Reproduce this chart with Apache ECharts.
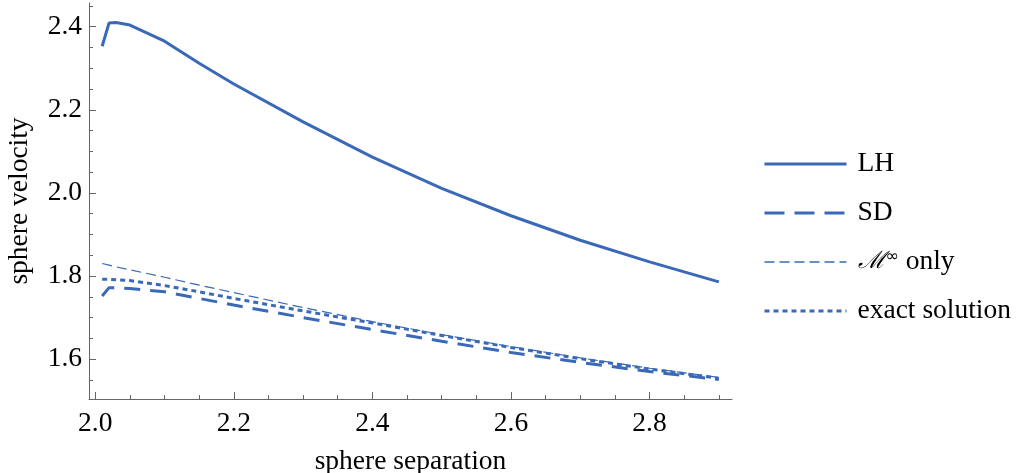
<!DOCTYPE html>
<html><head><meta charset="utf-8">
<script src="https://cdn.jsdelivr.net/npm/echarts@6/dist/echarts.min.js"></script>
<style>html,body{margin:0;padding:0;background:#fff}#c{width:1018px;height:473px}</style>
</head><body><div id="c"></div>
<script>
const separation = [2.01, 2.02, 2.03, 2.05, 2.1, 2.15, 2.2, 2.3, 2.4, 2.5, 2.6, 2.7, 2.8, 2.9];
const lhVelocity = [2.353, 2.409, 2.410, 2.404, 2.365, 2.312, 2.262, 2.171, 2.086, 2.011, 1.945, 1.886, 1.834, 1.786];
const sdVelocity = [1.752, 1.772, 1.772, 1.770, 1.762, 1.746, 1.730, 1.700, 1.671, 1.643, 1.616, 1.592, 1.570, 1.551];
const mInfVelocity = [1.830, 1.826, 1.822, 1.815, 1.797, 1.778, 1.760, 1.724, 1.690, 1.659, 1.630, 1.603, 1.578, 1.556];
const exactVelocity = [1.792, 1.792, 1.791, 1.789, 1.777, 1.762, 1.746, 1.716, 1.687, 1.657, 1.628, 1.601, 1.576, 1.554];
const xMajorTicks = [2.0, 2.2, 2.4, 2.6, 2.8];
const xMinorTicks = [2.0, 2.05, 2.1, 2.15, 2.2, 2.25, 2.3, 2.35, 2.4, 2.45, 2.5, 2.55, 2.6, 2.65, 2.7, 2.75, 2.8, 2.85, 2.9];
const yMajorTicks = [1.6, 1.8, 2.0, 2.2, 2.4];
const yMinorTicks = [1.55, 1.6, 1.65, 1.7, 1.75, 1.8, 1.85, 1.9, 1.95, 2.0, 2.05, 2.1, 2.15, 2.2, 2.25, 2.3, 2.35, 2.4, 2.45];
const seriesNames = ['LH', 'SD', 'M_inf', 'exact solution'];

const color = '#3a69b7';
const axisColor = '#666';
const font = 'Liberation Serif, Times New Roman, serif';
const fs = 27.5;
const xMin = 1.991, xMax = 2.919, yMin = 1.504, yMax = 2.457;
const styles = {
  'LH': {width: 3, type: 'solid'},
  'SD': {width: 3, type: [16, 10]},
  'M_inf': {width: 1.2, type: [10, 5]},
  'exact solution': {width: 3, type: [5, 4]}
};
const legendStyles = {
  'LH': {width: 3, type: 'solid'},
  'SD': {width: 3, type: [20, 10]},
  'M_inf': {width: 1.3, type: [10, 5]},
  'exact solution': {width: 3, type: [5, 4]}
};

function pairs(ys) { return separation.map((x, i) => [x, ys[i]]); }

const chart = echarts.init(document.getElementById('c'), null, {renderer: 'canvas'});
const baseX = {type: 'value', min: xMin, max: xMax, splitLine: {show: false}};
const baseY = {type: 'value', min: yMin, max: yMax, splitLine: {show: false}};
const valuesByName = {'LH': lhVelocity, 'SD': sdVelocity, 'M_inf': mInfVelocity, 'exact solution': exactVelocity};
chart.setOption({
  animation: false,
  backgroundColor: '#fff',
  grid: {left: 89, right: 286, top: 3, bottom: 74, containLabel: false, outerBoundsMode: 'none'},
  xAxis: [
    Object.assign({}, baseX, {
      axisLine: {show: true, lineStyle: {color: axisColor, width: 1}},
      axisTick: {show: true, inside: true, length: 4, customValues: xMinorTicks, lineStyle: {color: axisColor}},
      axisLabel: {show: false},
      name: 'sphere separation', nameLocation: 'middle', nameGap: 49,
      nameTextStyle: {fontFamily: font, fontSize: fs, color: '#000'}
    }),
    Object.assign({}, baseX, {
      position: 'bottom',
      axisLine: {show: false},
      axisTick: {show: true, inside: true, length: 7, customValues: xMajorTicks, lineStyle: {color: axisColor}},
      axisLabel: {show: true, customValues: xMajorTicks, formatter: v => v.toFixed(1), margin: 11,
        fontFamily: font, fontSize: fs, color: '#000'}
    })
  ],
  yAxis: [
    Object.assign({}, baseY, {
      axisLine: {show: true, lineStyle: {color: axisColor, width: 1}},
      axisTick: {show: true, inside: true, length: 4, customValues: yMinorTicks, lineStyle: {color: axisColor}},
      axisLabel: {show: false},
      name: 'sphere velocity', nameLocation: 'middle', nameGap: 55, nameRotate: 90,
      nameTextStyle: {fontFamily: font, fontSize: fs, color: '#000'}
    }),
    Object.assign({}, baseY, {
      position: 'left',
      axisLine: {show: false},
      axisTick: {show: true, inside: true, length: 7, customValues: yMajorTicks, lineStyle: {color: axisColor}},
      axisLabel: {show: true, customValues: yMajorTicks, formatter: v => v.toFixed(1), margin: 7,
        fontFamily: font, fontSize: fs, color: '#000'}
    })
  ],
  legend: {
    orient: 'vertical', left: 763, top: 150, padding: 0,
    itemWidth: 82, itemHeight: 14, itemGap: 21,
    data: seriesNames.map(n => ({name: n, itemStyle: {opacity: 0}, lineStyle: Object.assign({color}, legendStyles[n])})),
    formatter: n => n === 'M_inf' ? '{m|ℳ}{s|∞}{t| only}' : n,
    textStyle: {fontFamily: font, fontSize: fs, color: '#000', lineHeight: 27, padding: [0, 0, 0, 6],
      rich: {
        m: {fontFamily: 'DejaVu Serif', fontStyle: 'italic', fontSize: 24, color: '#000'},
        s: {fontFamily: 'DejaVu Sans', fontSize: 16, color: '#000', verticalAlign: 'top', padding: [0, 0, 8, 0]},
        t: {fontFamily: font, fontSize: fs, color: '#000'}
      }}
  },
  series: seriesNames.map(n => ({
    name: n, type: 'line', data: pairs(valuesByName[n]), symbol: 'none',
    lineStyle: Object.assign({color}, styles[n]), itemStyle: {color}
  }))
});
</script></body></html>
